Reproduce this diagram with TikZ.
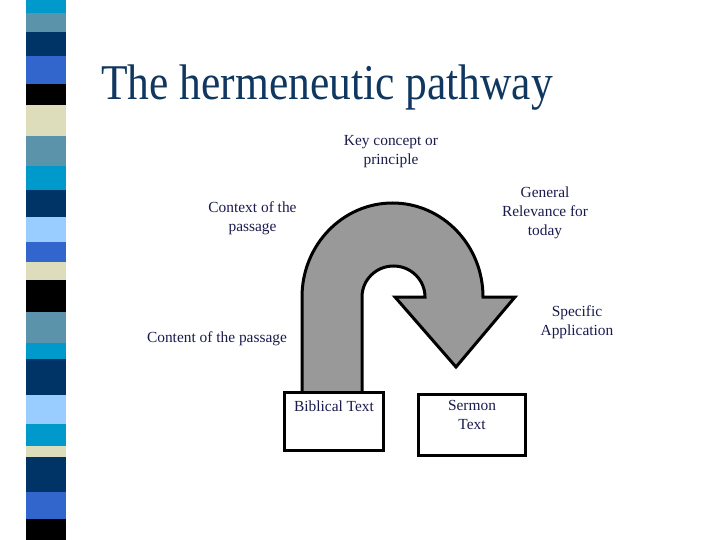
\documentclass[tikz,border=0pt]{standalone}
\usepackage{fontspec}
\setmainfont{Liberation Serif}
\usetikzlibrary{positioning}
\definecolor{titleblue}{HTML}{10375F}
\definecolor{inkblue}{HTML}{1A1A4D}
\definecolor{stripecyan}{HTML}{0099CC}
\definecolor{stripesteel}{HTML}{5B93AB}
\definecolor{stripenavy}{HTML}{003366}
\definecolor{striperoyal}{HTML}{3366CC}
\definecolor{stripebeige}{HTML}{DDDDBB}
\definecolor{stripesky}{HTML}{99CCFF}
\definecolor{arrowgray}{HTML}{999999}
\tikzset{
  lbl/.style = {text=inkblue, font=\fontsize{15.4}{19}\selectfont, align=center, inner sep=0pt},
  textbox/.style = {draw, line width=3.2pt, fill=white},
}
\begin{document}
\begin{tikzpicture}[x=1pt, y=-1pt]
	\useasboundingbox (0,0) rectangle (720,540);

	% side stripe
	\foreach \ya/\yb/\col in {0/13/stripecyan, 13/32/stripesteel, 32/56/stripenavy,
		56/84/striperoyal, 84/105/black, 105/136/stripebeige, 136/166/stripesteel,
		166/190/stripecyan, 190/217/stripenavy, 217/242/stripesky, 242/262/striperoyal,
		262/280/stripebeige, 280/312/black, 312/343/stripesteel, 343/359/stripecyan,
		359/395/stripenavy, 395/424/stripesky, 424/446/stripecyan, 446/457/stripebeige,
		457/492/stripenavy, 492/519/striperoyal, 519/540/black}
		\fill [\col] (26,\ya) rectangle (66,\yb);

	% title
	\node [anchor=base west, inner sep=0pt, text=titleblue, font=\fontsize{43.5}{50}\selectfont]
		(title) at (101,100) {\scalebox{1}[1.15]{The hermeneutic pathway}};

	% u-turn arrow
	\draw [line width=3pt, fill=arrowgray, line join=miter]
		(302,395) -- (302,297)
		arc [start angle=180, end angle=360, x radius=90.5, y radius=94]
		-- (515,297) -- (456,367) -- (395,297) -- (425,297)
		arc [start angle=0, end angle=-180, x radius=31.5, y radius=31]
		-- (362,395) -- cycle;

	% boxes
	\node [textbox, minimum width=99pt, minimum height=58pt] (bibbox) at (334,421.5) {};
	\node [textbox, minimum width=107pt, minimum height=61pt] (sermonbox) at (472,425) {};
	\node [lbl] (bibtext) at (334,406.5) {Biblical Text};
	\node [lbl] (sermontext) at (472,415) {Sermon\\Text};

	% labels
	\node [lbl] (keyconcept) at (391,151.5) {Key concept or\\principle};
	\node [lbl] (context) at (252.5,218) {Context of the\\passage};
	\node [lbl] (relevance) at (545,212.5) {General\\Relevance for\\today};
	\node [lbl] (application) at (577,322.5) {Specific\\Application};
	\node [lbl] (content) at (217,338.5) {Content of the passage};
\end{tikzpicture}
\end{document}
